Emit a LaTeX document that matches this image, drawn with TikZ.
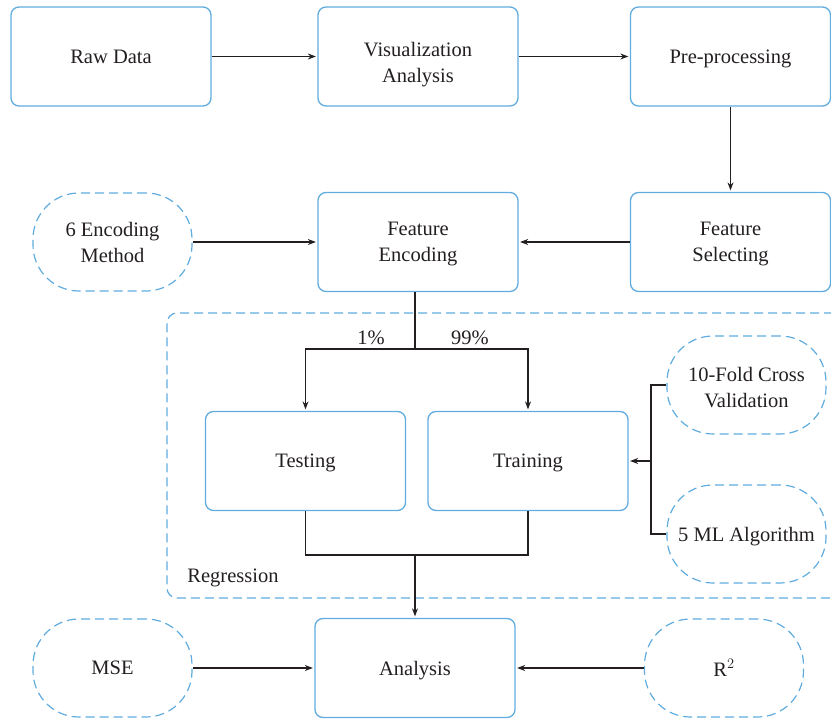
\documentclass[tikz,border=0pt]{standalone}
\usepackage{fontspec}
\setmainfont{Liberation Serif}
\usetikzlibrary{arrows.meta}
\definecolor{boxblue}{RGB}{96,172,222}
\definecolor{txt}{RGB}{35,31,32}
\begin{document}
\begin{tikzpicture}[x=1pt,y=-1pt,
  every node/.style={font=\fontsize{20.5}{26}\selectfont, text=txt, align=center},
  solidbox/.style={draw=boxblue, line width=1.3pt, rounded corners=8pt,
    minimum width=200pt, minimum height=99pt, inner sep=0pt, text depth=0pt},
  dashbox/.style={draw=boxblue, line width=1.2pt, rounded corners=46pt,
    dash pattern=on 9pt off 5pt, minimum width=159pt, minimum height=98pt, inner sep=0pt, text depth=0pt},
  lbl/.style={inner sep=0pt, text depth=0pt},
  conn/.style={draw=txt, line width=1.1pt},
  arr/.style={conn, -{Stealth[length=8pt,width=6pt]}, shorten >=1.5pt}]
\useasboundingbox (0,0) rectangle (831,720);
% Regression region
\draw[draw=boxblue, line width=1.2pt, dash pattern=on 9pt off 5pt, rounded corners=10pt]
  (833,313) -- (167,313) -- (167,598) -- (833,598);
\node (reg) at (233,578) {Regression};

\node[solidbox] (raw) at (111,56.5) {Raw Data};
\node[solidbox] (vis) at (418,56.5) {};
\node[lbl] (vislbl) at (418,62.5) {Visualization\\Analysis};
\node[solidbox] (pre) at (730.5,56.5) {Pre-processing};
\node[solidbox] (fe) at (418,242) {Feature\\Encoding};
\node[solidbox] (fs) at (730.5,242) {Feature\\Selecting};
\node[dashbox] (enc) at (112.5,242) {6 Encoding\\Method};
\node[solidbox] (test) at (305.5,461) {Testing};
\node[solidbox] (train) at (528,461) {Training};
\node[dashbox] (cv) at (746.5,385) {};
\node[lbl] (cvlbl) at (746.5,387.5) {10-Fold Cross\\Validation};
\node[dashbox] (ml) at (746.5,534) {5 ML Algorithm};
\node[solidbox] (ana) at (415,668) {Analysis};
\node[dashbox] (mse) at (112.5,668) {MSE};
\node[dashbox] (r2) at (724,668) {R$^{2}$};

\node (p1) at (371,338) {1\%};
\node (p99) at (470,338) {99\%};

\coordinate (split) at (415,349);
\coordinate (brk) at (651,461);
\coordinate (join) at (415,555);

\draw[arr] (raw.east) -- (vis.west);
\draw[arr] (vis.east) -- (pre.west);
\draw[arr] (pre.south) -- (fs.north);
\draw[arr] (fs.west) -- (fe.east);
\draw[arr] (enc.east) -- (fe.west);
\draw[conn] (fe.south -| split) -- (split);
\draw[arr] (split) -| (test.north);
\draw[arr] (split) -| (train.north);
\draw[conn] (cv.west) -| (brk) |- (ml.west);
\draw[arr] (brk) -- (train.east);
\draw[conn] (test.south) |- (join) -| (train.south);
\draw[arr] (join) -- (ana.north);
\draw[arr] (mse.east) -- (ana.west);
\draw[arr] (r2.west) -- (ana.east);
\end{tikzpicture}
\end{document}
